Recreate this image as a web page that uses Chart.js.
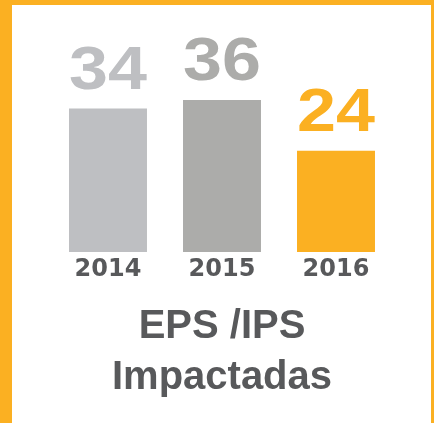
<!DOCTYPE html>
<html><head><meta charset="utf-8">
<script src="https://cdn.jsdelivr.net/npm/chart.js@4"></script>
<style>
html,body{margin:0;padding:0;background:#fff;overflow:hidden}
#c{position:absolute;left:0;top:0}
#frame{position:absolute;left:0;top:0;width:434px;height:423px;box-sizing:border-box;border-style:solid;border-color:#fbb022;border-width:5px 3px 0 12px;pointer-events:none}
</style></head><body>
<canvas id="c" width="434" height="423"></canvas>
<div id="frame"></div>
<script>
const categories = ['2014', '2015', '2016'];
const values = [34, 36, 24];
const barColors = ['#bebfc2', '#acacaa', '#fbb022'];
const titleLines = ['EPS /IPS', 'Impactadas'];

const valueLabels = {
  id: 'valueLabels',
  afterDatasetsDraw(chart) {
    const ctx = chart.ctx;
    const meta = chart.getDatasetMeta(0);
    meta.data.forEach((bar, i) => {
      ctx.save();
      ctx.translate(bar.x, bar.y - 20);
      ctx.scale(1.13, 1);
      ctx.font = 'bold 62px "Liberation Sans", Arial, sans-serif';
      ctx.fillStyle = barColors[i];
      ctx.textAlign = 'center';
      ctx.textBaseline = 'alphabetic';
      ctx.fillText(String(values[i]), 0, 0);
      ctx.restore();
    });
  }
};

new Chart(document.getElementById('c'), {
  type: 'bar',
  data: {
    labels: categories,
    datasets: [{
      data: values,
      backgroundColor: barColors,
      borderWidth: 0,
      barPercentage: 0.684,
      categoryPercentage: 1
    }]
  },
  options: {
    responsive: false,
    animation: false,
    layout: { padding: { top: 41, left: 51, right: 41, bottom: 0 } },
    plugins: {
      legend: { display: false },
      tooltip: { enabled: false },
      title: {
        display: true,
        position: 'bottom',
        text: titleLines,
        color: '#58595b',
        font: { family: '"Liberation Sans", Arial, sans-serif', size: 40, weight: 'bold', lineHeight: 1.275 },
        padding: { top: 13, bottom: 20 }
      }
    },
    scales: {
      x: {
        grid: { display: false, drawTicks: false },
        border: { display: false },
        ticks: {
          color: '#58595b',
          padding: 3,
          font: { family: '"DejaVu Sans", sans-serif', size: 24, weight: 'bold', lineHeight: 1.25 }
        }
      },
      y: { display: false, min: 0, max: 50 }
    }
  },
  plugins: [valueLabels]
});
</script>
</body></html>
